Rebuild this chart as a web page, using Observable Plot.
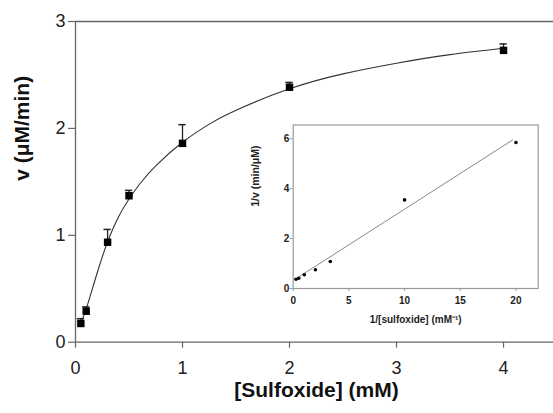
<!DOCTYPE html>
<html>
<head>
<meta charset="utf-8">
<script src="https://cdn.jsdelivr.net/npm/d3@7"></script>
<script src="https://cdn.jsdelivr.net/npm/@observablehq/plot@0.6"></script>
<style>
  html, body { margin: 0; padding: 0; background: white; }
  #wrap { position: relative; width: 553px; height: 413px; overflow: hidden; }
  #inset { position: absolute; left: 240px; top: 112px; }
</style>
</head>
<body>
<div id="wrap"><div id="main"></div><div id="inset"></div></div>
<script>
// Main Michaelis–Menten data
const sConc = [0.05, 0.1, 0.3, 0.5, 1, 2, 4];
const rate = [0.175, 0.29, 0.935, 1.37, 1.86, 2.385, 2.73];
const rateErrTop = [0.22, 0.33, 1.055, 1.42, 2.035, 2.43, 2.79];
// Fitted curve
const fitS = [0.05, 0.1, 0.2, 0.3, 0.4, 0.5, 0.6, 0.75, 1, 1.25, 1.5, 2, 2.5, 3, 3.5, 4];
const fitV = [0.19, 0.31, 0.64, 0.94, 1.17, 1.34, 1.48, 1.65, 1.87, 2.04, 2.17, 2.37, 2.51, 2.61, 2.69, 2.75];
const mainXTicks = [0, 1, 2, 3, 4];
const mainYTicks = [0, 1, 2, 3];
// Inset Lineweaver–Burk data
const invS = [0.25, 0.5, 1, 2, 3.33, 10, 20];
const invV = [0.37, 0.41, 0.55, 0.75, 1.08, 3.55, 5.85];
const lbLineX = [0.2, 19.7];
const lbLineY = [0.38, 5.95];
const insetXTicks = [0, 5, 10, 15, 20];
const insetYTicks = [0, 2, 4, 6];

const pts = sConc.map((s, i) => ({s, v: rate[i], top: rateErrTop[i]}));
const fit = fitS.map((s, i) => ({s, v: fitV[i]}));
const lb = invS.map((x, i) => ({x, y: invV[i]}));
const lbLine = lbLineX.map((x, i) => ({x, y: lbLineY[i]}));

const font = "'Liberation Sans', Arial, Helvetica, sans-serif";
const axisGray = "#666";
const capHalf = 0.034;
const intFmt = d3.format("d");

const main = Plot.plot({
  width: 553, height: 413,
  marginLeft: 75, marginRight: 0, marginTop: 21, marginBottom: 71.3,
  x: {domain: [0, 4.467]},
  y: {domain: [0, 3]},
  style: {background: "white", fontFamily: font, color: "#222", overflow: "visible"},
  marks: [
    Plot.axisX(mainXTicks, {tickSize: 6, tickPadding: 13, fontSize: 18, tickFormat: intFmt, stroke: axisGray, strokeWidth: 1.2, label: null}),
    Plot.axisY(mainYTicks, {tickSize: 7, tickPadding: 3, fontSize: 18, tickFormat: intFmt, stroke: axisGray, strokeWidth: 1.2, label: null}),
    Plot.ruleY([0, 3], {stroke: axisGray, strokeWidth: 1.3}),
    Plot.ruleX([0], {stroke: axisGray, strokeWidth: 1.3}),
    Plot.line(fit, {x: "s", y: "v", curve: "natural", stroke: "#333", strokeWidth: 1.1}),
    Plot.ruleX(pts, {x: "s", y1: "v", y2: "top", stroke: "#222", strokeWidth: 1.3}),
    Plot.ruleY(pts, {y: "top", x1: d => d.s - capHalf, x2: d => d.s + capHalf, stroke: "#222", strokeWidth: 1.5}),
    Plot.dot(pts, {x: "s", y: "v", symbol: "square", r: 4.2, fill: "black", stroke: "none"}),
    Plot.text(["[Sulfoxide] (mM)"], {frameAnchor: "bottom", dx: 2, dy: 55, fontSize: 21, fontWeight: "bold", fill: "#111"}),
    Plot.text(["v (μM/min)"], {frameAnchor: "left", dx: -53, dy: -1, rotate: -90, fontSize: 21, fontWeight: "bold", fill: "#111"})
  ]
});
document.getElementById("main").appendChild(main);

const inset = Plot.plot({
  width: 310, height: 225,
  marginLeft: 52.7, marginRight: 12.3, marginTop: 12.5, marginBottom: 49,
  x: {domain: [0, 22]},
  y: {domain: [0, 6.55]},
  style: {background: "transparent", fontFamily: font, color: "#222", overflow: "visible"},
  marks: [
    Plot.frame({stroke: "#9a9a9a", strokeWidth: 1.2}),
    Plot.axisX(insetXTicks, {tickSize: 3, tickPadding: 5.5, fontSize: 10, fontWeight: "bold", tickFormat: intFmt, stroke: "#9a9a9a", label: null}),
    Plot.axisY(insetYTicks, {tickSize: 3, tickPadding: 1, fontSize: 10, fontWeight: "bold", tickFormat: intFmt, stroke: "#9a9a9a", label: null}),
    Plot.line(lbLine, {x: "x", y: "y", stroke: "#888", strokeWidth: 1}),
    Plot.dot(lb, {x: "x", y: "y", r: 1.8, fill: "black", stroke: "none"}),
    Plot.text(["1/[sulfoxide] (mM⁻¹)"], {frameAnchor: "bottom", dy: 34, fontSize: 10, fontWeight: "bold", fill: "#222"}),
    Plot.text(["1/v (min/μM)"], {frameAnchor: "left", dx: -37.7, rotate: -90, fontSize: 10.5, fontWeight: "bold", fill: "#222"})
  ]
});
document.getElementById("inset").appendChild(inset);
</script>
</body>
</html>
